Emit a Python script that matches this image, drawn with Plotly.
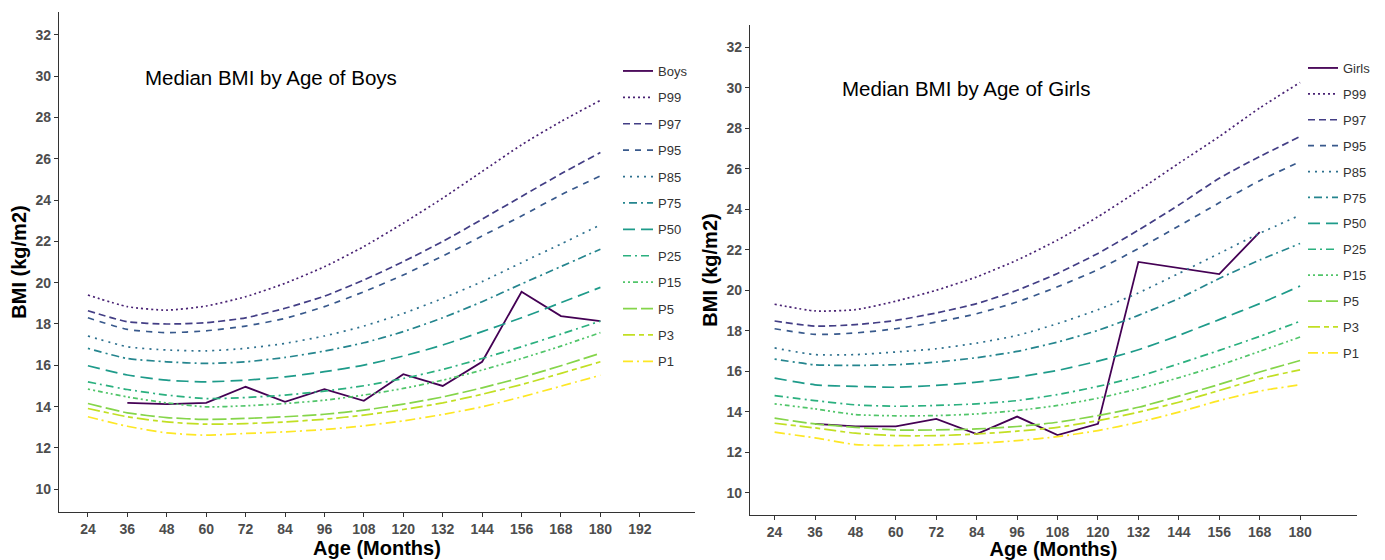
import plotly.graph_objects as go

# Age grid (months)
ages = [24, 36, 48, 60, 72, 84, 96, 108, 120, 132, 144, 156, 168, 180]
median_ages = [36, 48, 60, 72, 84, 96, 108, 120, 132, 144, 156, 168, 180]
girls_median_ages = [36, 48, 60, 72, 84, 96, 108, 120, 132, 144, 156, 168]

# Observed median BMI
boys_median = [14.18, 14.12, 14.18, 14.96, 14.23, 14.85, 14.28, 15.57, 15.0, 16.17, 19.56, 18.38, 18.14]
girls_median = [13.4, 13.28, 13.28, 13.65, 12.9, 13.76, 12.85, 13.4, 21.4, 21.1, 20.8, 22.87]

# Reference percentiles, boys
boys_p99 = [19.4, 18.84, 18.67, 18.87, 19.32, 19.97, 20.77, 21.75, 22.88, 24.09, 25.38, 26.67, 27.8, 28.82]
boys_p97 = [18.64, 18.11, 18.0, 18.06, 18.3, 18.76, 19.35, 20.13, 21.02, 21.99, 23.07, 24.17, 25.27, 26.3]
boys_p95 = [18.3, 17.74, 17.58, 17.67, 17.9, 18.27, 18.84, 19.56, 20.37, 21.29, 22.26, 23.23, 24.25, 25.17]
boys_p85 = [17.42, 16.9, 16.74, 16.7, 16.82, 17.06, 17.42, 17.9, 18.51, 19.24, 20.05, 20.97, 21.87, 22.8]
boys_p75 = [16.82, 16.33, 16.17, 16.09, 16.17, 16.38, 16.69, 17.09, 17.63, 18.3, 19.08, 19.94, 20.78, 21.62]
boys_p50 = [15.98, 15.53, 15.28, 15.2, 15.28, 15.44, 15.69, 16.01, 16.45, 16.98, 17.63, 18.3, 19.03, 19.77]
boys_p25 = [15.2, 14.83, 14.56, 14.39, 14.44, 14.56, 14.75, 15.01, 15.36, 15.8, 16.33, 16.9, 17.51, 18.14]
boys_p15 = [14.85, 14.47, 14.18, 13.99, 14.04, 14.15, 14.31, 14.56, 14.88, 15.28, 15.77, 16.33, 16.93, 17.58]
boys_p5 = [14.15, 13.7, 13.47, 13.38, 13.43, 13.51, 13.63, 13.83, 14.12, 14.47, 14.91, 15.41, 15.98, 16.58]
boys_p3 = [13.91, 13.51, 13.26, 13.15, 13.18, 13.26, 13.39, 13.59, 13.86, 14.18, 14.6, 15.07, 15.61, 16.17]
boys_p1 = [13.51, 13.05, 12.73, 12.62, 12.7, 12.78, 12.89, 13.07, 13.31, 13.62, 13.99, 14.47, 14.99, 15.52]

# Reference percentiles, girls
girls_p99 = [19.31, 18.98, 19.04, 19.46, 20.0, 20.66, 21.49, 22.48, 23.63, 24.92, 26.27, 27.59, 29.0, 30.26]
girls_p97 = [18.48, 18.23, 18.3, 18.51, 18.88, 19.34, 20.0, 20.83, 21.82, 22.97, 24.21, 25.53, 26.6, 27.59]
girls_p95 = [18.1, 17.82, 17.89, 18.1, 18.43, 18.84, 19.42, 20.17, 21.02, 22.06, 23.17, 24.32, 25.41, 26.35]
girls_p85 = [17.15, 16.82, 16.82, 16.95, 17.11, 17.39, 17.77, 18.35, 19.04, 19.87, 20.83, 21.82, 22.81, 23.71]
girls_p75 = [16.6, 16.32, 16.29, 16.32, 16.45, 16.67, 16.98, 17.44, 18.02, 18.76, 19.59, 20.58, 21.49, 22.31]
girls_p50 = [15.66, 15.33, 15.25, 15.21, 15.3, 15.46, 15.71, 16.04, 16.5, 17.06, 17.77, 18.55, 19.34, 20.21]
girls_p25 = [14.8, 14.55, 14.34, 14.27, 14.31, 14.39, 14.55, 14.85, 15.25, 15.74, 16.37, 17.03, 17.72, 18.47]
girls_p15 = [14.39, 14.14, 13.86, 13.8, 13.81, 13.89, 14.06, 14.31, 14.67, 15.13, 15.68, 16.29, 16.98, 17.69]
girls_p5 = [13.68, 13.4, 13.23, 13.1, 13.1, 13.15, 13.27, 13.48, 13.81, 14.22, 14.77, 15.35, 15.96, 16.53]
girls_p3 = [13.43, 13.2, 12.94, 12.82, 12.82, 12.9, 13.04, 13.23, 13.56, 13.98, 14.47, 15.05, 15.63, 16.07]
girls_p1 = [12.99, 12.71, 12.38, 12.33, 12.36, 12.44, 12.57, 12.77, 13.07, 13.48, 13.98, 14.55, 15.02, 15.33]

percentile_names = ["P99", "P97", "P95", "P85", "P75", "P50", "P25", "P15", "P5", "P3", "P1"]
boys_curves = [boys_p99, boys_p97, boys_p95, boys_p85, boys_p75, boys_p50,
               boys_p25, boys_p15, boys_p5, boys_p3, boys_p1]
girls_curves = [girls_p99, girls_p97, girls_p95, girls_p85, girls_p75, girls_p50,
                girls_p25, girls_p15, girls_p5, girls_p3, girls_p1]

x_ticks = [24, 36, 48, 60, 72, 84, 96, 108, 120, 132, 144, 156, 168, 180, 192]
x_ticks_girls = [24, 36, 48, 60, 72, 84, 96, 108, 120, 132, 144, 156, 168, 180]
y_ticks = [10, 12, 14, 16, 18, 20, 22, 24, 26, 28, 30, 32]

# viridis palette, median first
median_color = "#440154"
pct_colors = ["#482173", "#433E85", "#38598C", "#2D708E", "#25858E", "#1E9B8A",
              "#2BB07F", "#51C56A", "#85D54A", "#C2DF23", "#FDE725"]
pct_dashes = ["2px,3px", "7px,4px", "6px,6px", "2px,5px", "2px,4px,8px,4px",
              "12px,6px", "8px,4px,2px,4px", "2px,3px,2px,3px,5px,3px",
              "14px,4px", "12px,4px,5px,4px", "10px,4px,2px,4px"]

W, H = 1385, 560
FONT = "Liberation Sans, Arial, sans-serif"
NARROW = "Liberation Sans Narrow, Arial Narrow, Liberation Sans, Arial, sans-serif"

fig = go.Figure()


def add_panel(xa, ya, legend, label, med_x, med_y, curves):
    fig.add_trace(go.Scatter(
        x=med_x, y=med_y, mode="lines", name=label,
        line=dict(color=median_color, width=1.8),
        xaxis=xa, yaxis=ya, legend=legend, legendgroup=legend + label,
    ))
    for name, vals, col, dash in zip(percentile_names, curves, pct_colors, pct_dashes):
        fig.add_trace(go.Scatter(
            x=ages, y=vals, mode="lines", name=name,
            line=dict(color=col, width=1.7, dash=dash, shape="spline", smoothing=0.6),
            xaxis=xa, yaxis=ya, legend=legend, legendgroup=legend + name,
        ))


add_panel("x", "y", "legend", "Boys", median_ages, boys_median, boys_curves)
add_panel("x2", "y2", "legend2", "Girls", girls_median_ages, girls_median, girls_curves)

axis_common = dict(
    showgrid=False, zeroline=False, showline=True, linecolor="#333333", linewidth=1.4,
    ticks="outside", ticklen=4, tickwidth=1, tickcolor="#333333",
    tickfont=dict(family=NARROW, size=14, color="#4d4d4d", weight="bold"),
)
xtitle = dict(text="Age (Months)", font=dict(family=FONT, size=20, color="black", weight="bold"), standoff=4)
ytitle = dict(text="BMI (kg/m2)", font=dict(family=FONT, size=20, color="black", weight="bold"), standoff=3)

fig.update_layout(
    width=W, height=H,
    margin=dict(l=0, r=0, t=0, b=0),
    paper_bgcolor="white", plot_bgcolor="white",
    font=dict(family=FONT),
    showlegend=True,
    xaxis=dict(domain=[59 / W, 695 / W], range=[15.2, 208.8], tickvals=x_ticks,
               title=xtitle, anchor="y", **axis_common),
    yaxis=dict(domain=[48 / H, 548 / H], range=[8.9, 33.1], tickvals=y_ticks,
               title=ytitle, anchor="x", **axis_common),
    xaxis2=dict(domain=[750 / W, 1357 / W], range=[16.7, 196.9], tickvals=x_ticks_girls,
                title=xtitle, anchor="y2", **axis_common),
    yaxis2=dict(domain=[45 / H, 535 / H], range=[8.9, 33.1], tickvals=y_ticks,
                title=ytitle, anchor="x2", **axis_common),
    legend=dict(x=618 / W, y=1 - 56 / H, xanchor="left", yanchor="top",
                bgcolor="rgba(0,0,0,0)", tracegroupgap=6.5, itemwidth=30,
                font=dict(family=FONT, size=13, color="#333333")),
    legend2=dict(x=1303 / W, y=1 - 53 / H, xanchor="left", yanchor="top",
                 bgcolor="rgba(0,0,0,0)", tracegroupgap=6, itemwidth=30,
                 font=dict(family=FONT, size=13, color="#333333")),
    annotations=[
        dict(text="Median BMI by Age of Boys", x=143 / W, y=1 - 78 / H, xref="paper", yref="paper",
             xanchor="left", yanchor="middle", showarrow=False,
             font=dict(family=FONT, size=20.5, color="black")),
        dict(text="Median BMI by Age of Girls", x=840 / W, y=1 - 88 / H, xref="paper", yref="paper",
             xanchor="left", yanchor="middle", showarrow=False,
             font=dict(family=FONT, size=20.5, color="black")),
    ],
)

fig.write_html("out.html")
